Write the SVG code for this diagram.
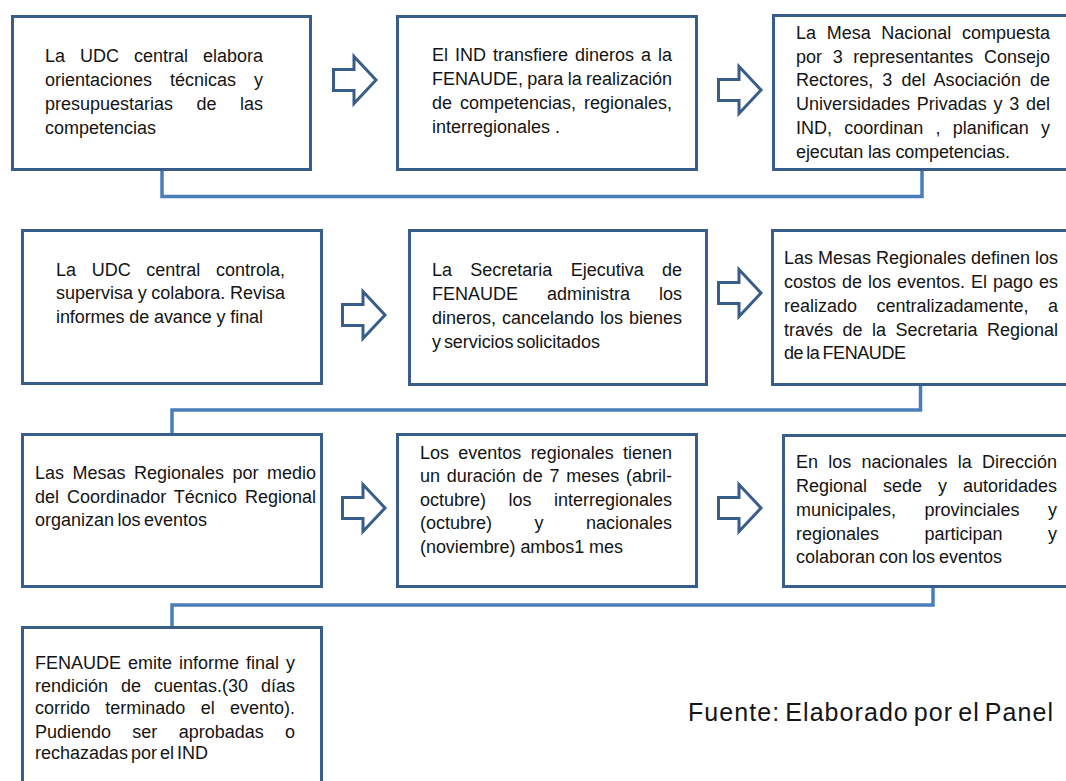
<svg xmlns="http://www.w3.org/2000/svg" xmlns:xlink="http://www.w3.org/1999/xlink" width="1066" height="781" viewBox="0 0 1066 781">
<style>
.box{fill:#fff;stroke:#385d8a;stroke-width:3}
.t{font-family:"Liberation Sans",Arial,sans-serif;font-size:18px;fill:#141414}
.conn{fill:none;stroke:#4a7ebb;stroke-width:3.5}
.arr{fill:#fff;stroke:#385d8a;stroke-width:3;stroke-linejoin:miter}
.src{font-family:"Liberation Sans",Arial,sans-serif;font-size:25px;fill:#141414}
</style>
<defs>
<path id="arrow" d="M1.5,-10.5 H22 V-23.5 L44,0 L22,23.5 V10.5 H1.5 Z"/>
</defs>
<rect width="1066" height="781" fill="#fff"/>
<g id="connectors">
<path class="conn" d="M162,170 V196.5 H922 V170"/>
<path class="conn" d="M920.5,385 V410 H172 V433"/>
<path class="conn" d="M933,587 V605 H172 V626"/>
<use class="arr" xlink:href="#arrow" href="#arrow" x="332" y="80"/>
<use class="arr" xlink:href="#arrow" href="#arrow" x="717" y="90"/>
<use class="arr" xlink:href="#arrow" href="#arrow" x="341" y="315"/>
<use class="arr" xlink:href="#arrow" href="#arrow" x="717" y="293"/>
<use class="arr" xlink:href="#arrow" href="#arrow" x="341" y="508"/>
<use class="arr" xlink:href="#arrow" href="#arrow" x="717" y="508"/>
</g>
<g id="n1">
<rect class="box" x="12.5" y="16.5" width="298" height="153"/>
<text class="t" x="45" y="62" word-spacing="10" textLength="218" lengthAdjust="spacing">La UDC central elabora</text>
<text class="t" x="45" y="86" word-spacing="12.96" textLength="218" lengthAdjust="spacing">orientaciones técnicas y</text>
<text class="t" x="45" y="110" word-spacing="18.46" textLength="218" lengthAdjust="spacing">presupuestarias de las</text>
<text class="t" x="45" y="134">competencias</text>
</g>
<g id="n2">
<rect class="box" x="397.5" y="16.5" width="299" height="153"/>
<text class="t" x="432" y="61" word-spacing="1.99" textLength="240" lengthAdjust="spacing">El IND transfiere dineros a la</text>
<text class="t" x="432" y="85" word-spacing="-0.68" textLength="240" lengthAdjust="spacing">FENAUDE, para la realización</text>
<text class="t" x="432" y="109" word-spacing="2.95" textLength="240" lengthAdjust="spacing">de competencias, regionales,</text>
<text class="t" x="432" y="133">interregionales .</text>
</g>
<g id="n3">
<rect class="box" x="773.5" y="15.5" width="310" height="154"/>
<text class="t" x="796" y="39" word-spacing="5.64" textLength="254" lengthAdjust="spacing">La Mesa Nacional compuesta</text>
<text class="t" x="796" y="63" word-spacing="5.63" textLength="254" lengthAdjust="spacing">por 3 representantes Consejo</text>
<text class="t" x="796" y="86" word-spacing="3.98" textLength="254" lengthAdjust="spacing">Rectores, 3 del Asociación de</text>
<text class="t" x="796" y="110" word-spacing="1.73" textLength="254" lengthAdjust="spacing">Universidades Privadas y 3 del</text>
<text class="t" x="796" y="134" word-spacing="7.23" textLength="254" lengthAdjust="spacing">IND, coordinan , planifican y</text>
<text class="t" x="796" y="158" textLength="214" lengthAdjust="spacing">ejecutan las competencias.</text>
</g>
<g id="n4">
<rect class="box" x="22.5" y="230.5" width="299" height="153"/>
<text class="t" x="56" y="276" word-spacing="10.65" textLength="229" lengthAdjust="spacing">La UDC central controla,</text>
<text class="t" x="56" y="299" word-spacing="-0.35" textLength="229" lengthAdjust="spacing">supervisa y colabora. Revisa</text>
<text class="t" x="56" y="323" textLength="207" lengthAdjust="spacing">informes de avance y final</text>
</g>
<g id="n5">
<rect class="box" x="409.5" y="230.5" width="297" height="154"/>
<text class="t" x="432" y="276" word-spacing="13.31" textLength="250" lengthAdjust="spacing">La Secretaria Ejecutiva de</text>
<text class="t" x="432" y="300" word-spacing="23.99" textLength="250" lengthAdjust="spacing">FENAUDE administra los</text>
<text class="t" x="432" y="324" word-spacing="0.96" textLength="250" lengthAdjust="spacing">dineros, cancelando los bienes</text>
<text class="t" x="432" y="348" word-spacing="-2" textLength="168" lengthAdjust="spacing">y servicios solicitados</text>
</g>
<g id="n6">
<rect class="box" x="772.5" y="230.5" width="310" height="154"/>
<text class="t" x="784" y="264" word-spacing="0" textLength="274" lengthAdjust="spacing">Las Mesas Regionales definen los</text>
<text class="t" x="784" y="288" word-spacing="0.98" textLength="274" lengthAdjust="spacing">costos de los eventos. El pago es</text>
<text class="t" x="784" y="312" word-spacing="14.45" textLength="274" lengthAdjust="spacing">realizado centralizadamente, a</text>
<text class="t" x="784" y="336" word-spacing="4.48" textLength="274" lengthAdjust="spacing">través de la Secretaria Regional</text>
<text class="t" x="784" y="359" word-spacing="-1.5" textLength="122" lengthAdjust="spacing">de la FENAUDE</text>
</g>
<g id="n7">
<rect class="box" x="22.5" y="434.5" width="299" height="152"/>
<text class="t" x="35" y="479" word-spacing="3.48" textLength="281" lengthAdjust="spacing">Las Mesas Regionales por medio</text>
<text class="t" x="35" y="503" word-spacing="2.97" textLength="281" lengthAdjust="spacing">del Coordinador Técnico Regional</text>
<text class="t" x="35" y="526" word-spacing="-1.5" textLength="172" lengthAdjust="spacing">organizan los eventos</text>
</g>
<g id="n8">
<rect class="box" x="397.5" y="434.5" width="299" height="152"/>
<text class="t" x="420" y="459" word-spacing="4.29" textLength="252" lengthAdjust="spacing">Los eventos regionales tienen</text>
<text class="t" x="420" y="482" word-spacing="1.79" textLength="252" lengthAdjust="spacing">un duración de 7 meses (abril-</text>
<text class="t" x="420" y="506" word-spacing="17.46" textLength="252" lengthAdjust="spacing">octubre) los interregionales</text>
<text class="t" x="420" y="529" word-spacing="37.47" textLength="252" lengthAdjust="spacing">(octubre) y nacionales</text>
<text class="t" x="420" y="553" textLength="203" lengthAdjust="spacing">(noviembre) ambos1 mes</text>
</g>
<g id="n9">
<rect class="box" x="783.5" y="435.5" width="300" height="151"/>
<text class="t" x="796" y="468" word-spacing="5.23" textLength="261" lengthAdjust="spacing">En los nacionales la Dirección</text>
<text class="t" x="796" y="492" word-spacing="10.97" textLength="261" lengthAdjust="spacing">Regional sede y autoridades</text>
<text class="t" x="796" y="516" word-spacing="23.48" textLength="261" lengthAdjust="spacing">municipales, provinciales y</text>
<text class="t" x="796" y="540" word-spacing="40.47" textLength="261" lengthAdjust="spacing">regionales participan y</text>
<text class="t" x="796" y="563" word-spacing="-1" textLength="206" lengthAdjust="spacing">colaboran con los eventos</text>
</g>
<g id="n10">
<rect class="box" x="22.5" y="627.5" width="299" height="170"/>
<text class="t" x="35" y="669" word-spacing="1.99" textLength="260" lengthAdjust="spacing">FENAUDE emite informe final y</text>
<text class="t" x="35" y="692" word-spacing="7.96" textLength="260" lengthAdjust="spacing">rendición de cuentas.(30 días</text>
<text class="t" x="35" y="714" word-spacing="10.31" textLength="260" lengthAdjust="spacing">corrido terminado el evento).</text>
<text class="t" x="35" y="738" word-spacing="16.3" textLength="260" lengthAdjust="spacing">Pudiendo ser aprobadas o</text>
<text class="t" x="35" y="759" word-spacing="-2" textLength="173" lengthAdjust="spacing">rechazadas por el IND</text>
</g>
<g id="source">
<text class="src" x="688" y="721" word-spacing="-3" textLength="365" lengthAdjust="spacing">Fuente: Elaborado por el Panel</text>
</g>
</svg>
